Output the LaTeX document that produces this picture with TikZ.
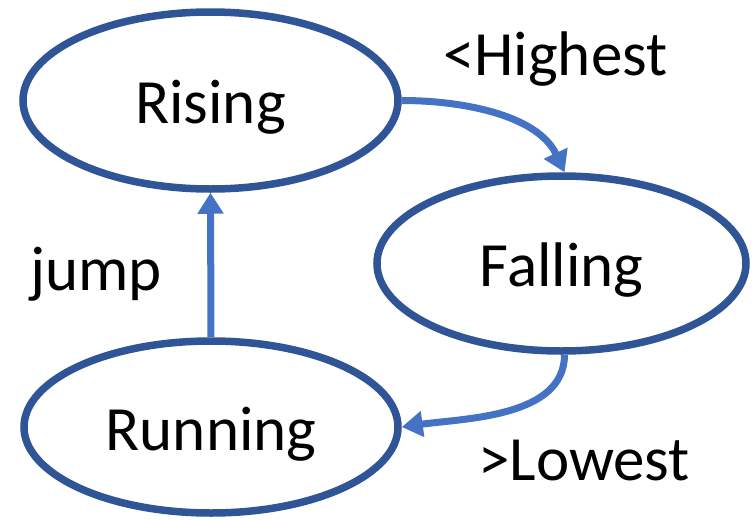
\documentclass[tikz,border=0pt]{standalone}
\usepackage{fontspec}
\setmainfont{Carlito}
\usetikzlibrary{shapes.geometric,arrows.meta}
\definecolor{ringblue}{HTML}{2F5597}
\definecolor{arrowblue}{HTML}{4472C4}
\tikzset{
  statenode/.style={ellipse, draw=ringblue, line width=7.5pt, inner sep=0pt,
    font=\fontsize{63}{75}\selectfont, text height=58pt, text depth=12pt},
  trans/.style={draw=arrowblue, line width=7pt,
    -{Triangle[length=21pt,width=25pt]}},
  lbl/.style={font=\fontsize{63}{75}\selectfont, inner sep=0pt, anchor=base west}
}
\begin{document}
\begin{tikzpicture}[x=1pt,y=-1pt]
\useasboundingbox (0,0) rectangle (756,520);
\node[statenode, minimum width=375pt, minimum height=177pt] (rising) at (210.5,100.5) {Rising};
\node[statenode, minimum width=369pt, minimum height=175pt] (falling) at (561.5,263.5) {Falling};
\node[statenode, minimum width=374pt, minimum height=172pt] (running) at (211,427) {Running};
\node[lbl] (hi) at (443,75) {<Highest};
\node[lbl] (jp) at (30,290) {jump};
\node[lbl] (lo) at (478,480) {>Lowest};
\draw[trans] (running.north) -- (rising.south);
\draw[trans] (rising.east) to[out=0,in=115,looseness=0.9] ([xshift=3pt]falling.north);
\draw[trans] ([xshift=3pt]falling.south) to[out=-90,in=8,looseness=0.9] (running.east);
\end{tikzpicture}
\end{document}
